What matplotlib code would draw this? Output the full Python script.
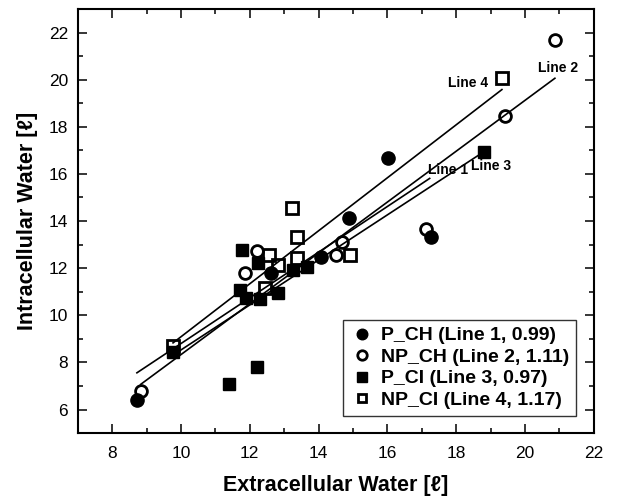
import matplotlib
matplotlib.use("Agg")
import matplotlib.pyplot as plt
from matplotlib.ticker import MultipleLocator

plt.rcParams["font.family"] = ["Liberation Sans", "DejaVu Sans"]

# measured points (extracellular, intracellular water)
p_ch_x = [8.72, 12.62, 14.08, 14.89, 16.02, 17.28]
p_ch_y = [6.40, 11.78, 12.47, 14.13, 16.66, 13.31]

np_ch_x = [8.83, 11.86, 12.21, 14.52, 14.67, 17.13, 19.43, 20.87]
np_ch_y = [6.80, 11.78, 12.74, 12.55, 13.12, 13.65, 18.45, 21.68]

p_ci_x = [9.77, 11.40, 11.71, 11.77, 11.90, 12.21, 12.23, 12.29, 12.82, 13.25, 13.65, 18.81]
p_ci_y = [8.45, 7.08, 11.07, 12.77, 10.72, 7.79, 12.20, 10.70, 10.93, 11.92, 12.06, 16.94]

np_ci_x = [9.77, 12.44, 12.57, 12.81, 13.24, 13.36, 13.36, 14.91, 19.33]
np_ci_y = [8.69, 11.14, 12.56, 12.13, 14.55, 13.33, 12.45, 12.55, 20.08]

# fitted lines, start/end
line_names = ["Line 1", "Line 2", "Line 3", "Line 4"]
line_x = [[8.72, 17.23], [8.83, 20.87], [9.77, 18.73], [9.77, 19.33]]
line_y = [[7.56, 15.81], [7.07, 20.06], [8.31, 16.87], [8.83, 19.58]]
label_pos = [(17.75, 16.15), (20.95, 20.5), (19.0, 16.33), (18.35, 19.84)]

legend_labels = [
    "P_CH (Line 1, 0.99)",
    "NP_CH (Line 2, 1.11)",
    "P_CI (Line 3, 0.97)",
    "NP_CI (Line 4, 1.17)",
]

fig = plt.figure(figsize=(6.27, 4.99), dpi=100)
ax = fig.add_axes([0.124, 0.132, 0.823, 0.850])

for lx, ly in zip(line_x, line_y):
    ax.plot(lx, ly, color="black", lw=1.2, zorder=2)

ms = 9.5
ax.plot(p_ch_x, p_ch_y, "o", color="black", ms=ms, ls="none", label=legend_labels[0], zorder=3)
ax.plot(np_ch_x, np_ch_y, "o", mfc="none", mec="black", mew=2, ms=ms - 1, ls="none",
        label=legend_labels[1], zorder=3)
ax.plot(p_ci_x, p_ci_y, "s", color="black", ms=ms - 0.5, ls="none", label=legend_labels[2], zorder=3)
ax.plot(np_ci_x, np_ci_y, "s", mfc="none", mec="black", mew=2, ms=ms - 1.5, ls="none",
        label=legend_labels[3], zorder=3)

for name, (tx, ty) in zip(line_names, label_pos):
    ax.text(tx, ty, name, ha="center", va="center", fontsize=10, fontweight="bold", zorder=4)

ax.set_xlim(7, 22)
ax.set_ylim(5, 23)
ax.xaxis.set_minor_locator(MultipleLocator(1))
ax.yaxis.set_minor_locator(MultipleLocator(1))
ax.set_xticks(range(8, 23, 2))
ax.set_yticks(range(6, 23, 2))
ax.tick_params(which="both", direction="in", top=True, right=True, labelsize=12.5, width=1.1)
ax.tick_params(which="major", length=6.5)
ax.tick_params(which="minor", length=3.5)
ax.tick_params(axis="x", which="major", pad=9)
ax.tick_params(axis="y", which="major", pad=7)
for sp in ax.spines.values():
    sp.set_linewidth(1.5)

ax.set_xlabel("Extracellular Water [ℓ]", fontsize=15.5, fontweight="bold", labelpad=10)
ax.set_ylabel("Intracellular Water [ℓ]", fontsize=15.5, fontweight="bold", labelpad=8)

leg = ax.legend(loc="lower right", frameon=True, fancybox=False,
                edgecolor="black", handletextpad=0.4, borderpad=0.35, labelspacing=0.2,
                markerscale=0.8, handlelength=1.2, borderaxespad=0.9,
                prop={"weight": "bold", "size": 14})
leg.get_frame().set_linewidth(1.0)

fig.savefig("out.png", dpi=100)
